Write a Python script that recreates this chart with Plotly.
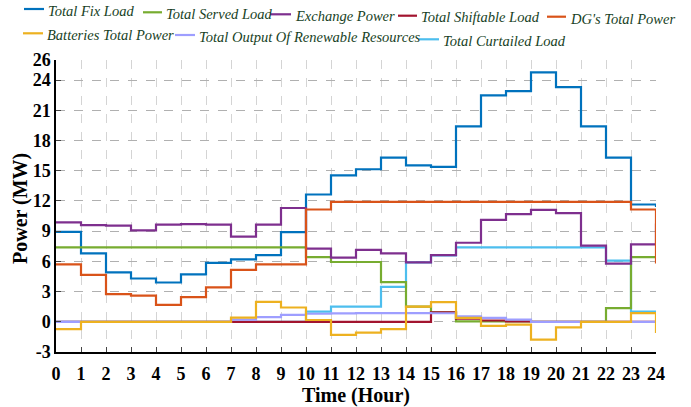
import plotly.graph_objects as go

# Hourly time steps (25 points: the stairs close on the value at hour 24)
hours = list(range(0, 25))

total_fix_load = [8.94, 6.8, 4.9, 4.3, 3.9, 4.7, 5.85, 6.2, 6.63, 8.9, 12.64, 14.55,
                  15.15, 16.3, 15.54, 15.38, 19.4, 22.48, 22.9, 24.78, 23.3, 19.4,
                  16.3, 11.65, 11.4]
total_served_load = [7.4, 7.4, 7.4, 7.4, 7.4, 7.4, 7.4, 7.4, 7.4, 7.4, 6.43, 5.94,
                     5.94, 3.93, 1.5, 0.95, 0.05, 0.05, 0.05, 0.0, 0.0, 0.0,
                     1.35, 6.43, 6.43]
exchange_power = [9.87, 9.6, 9.55, 9.07, 9.66, 9.7, 9.65, 8.45, 9.65, 11.3, 7.26, 6.37,
                  7.15, 6.8, 5.9, 6.63, 7.85, 10.13, 10.7, 11.12, 10.79, 7.56,
                  5.77, 7.69, 9.77]
total_shiftable_load = [0, 0, 0, 0, 0, 0, 0, 0, 0, 0, 0, 0,
                        0, 0, 0, 0.93, 0.3, 0.13, 0.03, 0, 0, 0,
                        0, 0, 0]
dg_total_power = [5.7, 4.65, 2.74, 2.6, 1.68, 2.44, 3.42, 5.15, 5.7, 5.7, 11.15, 11.9,
                  11.9, 11.9, 11.9, 11.9, 11.9, 11.9, 11.9, 11.9, 11.9, 11.9,
                  11.9, 11.15, 5.8]
batteries_total_power = [-0.73, 0, 0, 0, 0, 0, 0, 0.42, 1.98, 1.42, 0.18, -1.3,
                         -1.08, -0.73, 1.5, 1.95, 0.38, -0.4, -0.28, -1.78, -0.56, 0,
                         0, 0.86, -1.12]
renewable_output = [0, 0, 0, 0, 0, 0, 0, 0.22, 0.46, 0.68, 0.8, 0.83,
                    0.86, 0.87, 0.87, 0.85, 0.53, 0.38, 0.22, 0, 0, 0,
                    0, 0, 0]
total_curtailed_load = [0, 0, 0, 0, 0, 0, 0, 0, 0, 0, 1.0, 1.5,
                        1.5, 3.47, 5.9, 6.6, 7.4, 7.4, 7.4, 7.4, 7.4, 7.4,
                        6.07, 1.02, 1.02]

series_names = ["Total Fix Load", "Total Served Load", "Exchange Power",
                "Total Shiftable Load", "DG's Total Power", "Batteries Total Power",
                "Total Output Of Renewable Resources", "Total Curtailed Load"]
series_values = [total_fix_load, total_served_load, exchange_power,
                 total_shiftable_load, dg_total_power, batteries_total_power,
                 renewable_output, total_curtailed_load]
series_colors = ["#0072BD", "#77AC30", "#7E2F8E", "#A2142F",
                 "#D95319", "#EDB120", "#9E9EFF", "#4DBEEE"]

x_ticks = list(range(0, 25))
y_ticks = [-3, 0, 3, 6, 9, 12, 15, 18, 21, 24, 26]

# drawing order, bottom to top
draw_order = [7, 0, 1, 2, 4, 3, 6, 5]

SERIF = "Liberation Serif, Times New Roman, Times, serif"

# figure geometry in pixels
W, H = 691, 407
M_L, M_R, M_T, M_B = 56, 35, 60, 55
PW, PH = W - M_L - M_R, H - M_T - M_B

fig = go.Figure()
for i in draw_order:
    fig.add_trace(go.Scatter(
        x=hours, y=series_values[i], name=series_names[i],
        mode="lines", line=dict(color=series_colors[i], width=2.2, shape="hv"),
        showlegend=False,
    ))

# hand-placed legend: key line (x0, x1, y) and label (x, y) in pixels
legend_layout = [
    (24, 44, 9.0, 46, 11.0),
    (143, 162, 12.3, 164, 13.5),
    (270, 291, 14.3, 293, 15.7),
    (398, 417, 15.7, 419, 17.3),
    (547, 566, 16.7, 568, 19.0),
    (23, 43, 33.3, 45, 34.7),
    (175, 195, 35.0, 197, 37.3),
    (419, 439, 39.3, 441, 40.7),
]


def px_x(px):
    return (px - M_L) / PW


def px_y(py):
    return (H - M_B - py) / PH


for name, color, (lx0, lx1, ly, tx, ty) in zip(series_names, series_colors, legend_layout):
    fig.add_shape(type="line", xref="paper", yref="paper",
                  x0=px_x(lx0), x1=px_x(lx1), y0=px_y(ly), y1=px_y(ly),
                  line=dict(color=color, width=2.2))
    fig.add_annotation(xref="paper", yref="paper", x=px_x(tx), y=px_y(ty),
                       text="<i>%s</i>" % name, showarrow=False,
                       xanchor="left", yanchor="middle",
                       font=dict(family=SERIF, size=14.5, color="#173f25"))

# vertical axis title
fig.add_annotation(xref="paper", yref="paper", x=px_x(21), y=px_y(209),
                   text="Power (MW)", textangle=-90, showarrow=False,
                   xanchor="center", yanchor="middle",
                   font=dict(family=SERIF, size=20, color="black", weight="bold"))

axis_font = dict(family=SERIF, size=18, color="black", weight="bold")

fig.update_layout(
    width=W, height=H,
    margin=dict(l=M_L, r=M_R, t=M_T, b=M_B, autoexpand=False),
    paper_bgcolor="white", plot_bgcolor="white",
    xaxis=dict(
        range=[0, 24], tickvals=x_ticks, ticktext=[str(v) for v in x_ticks],
        showline=True, linecolor="black", linewidth=1.5,
        ticks="inside", ticklen=5, tickcolor="#444",
        showgrid=True, gridcolor="#d4d4d4", griddash="dash", gridwidth=1,
        zeroline=False, tickfont=axis_font, ticklabelstandoff=5,
        automargin=False,
        title=dict(text="Time (Hour)", font=dict(family=SERIF, size=20,
                                                 color="black", weight="bold"),
                   standoff=6),
    ),
    yaxis=dict(
        range=[-3, 26], tickvals=y_ticks, ticktext=[str(v) for v in y_ticks],
        showline=True, linecolor="black", linewidth=1.5,
        ticks="inside", ticklen=5, tickcolor="#444",
        showgrid=True, gridcolor="#b0b0b0", griddash="dash", gridwidth=1,
        zeroline=False, tickfont=axis_font, ticklabelstandoff=0,
        automargin=False,
    ),
)

fig.write_html("out.html")
